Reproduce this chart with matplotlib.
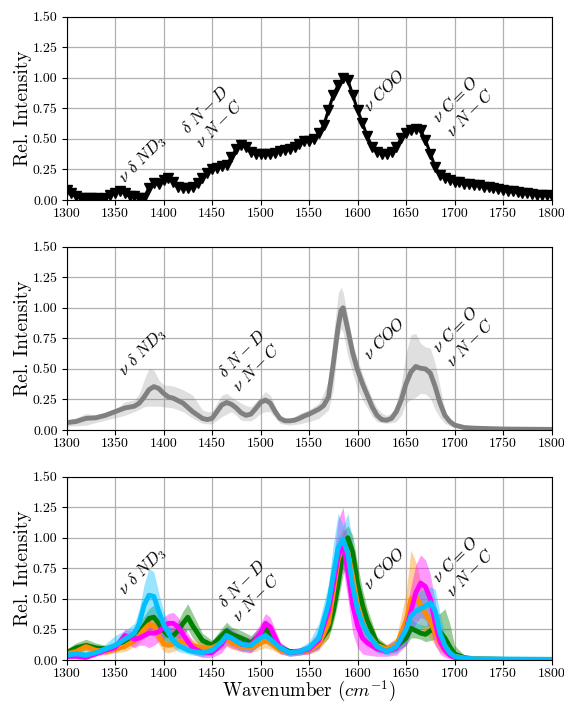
import numpy as np
import matplotlib
matplotlib.use("Agg")
import matplotlib.pyplot as plt
from matplotlib.ticker import FormatStrFormatter, MultipleLocator

plt.rcParams['font.family'] = 'serif'
plt.rcParams['font.serif'] = ['cmr10']
plt.rcParams['mathtext.fontset'] = 'cm'
plt.rcParams['axes.unicode_minus'] = False

# ---------------- data ----------------
# Panel 1: single spectrum with markers
x_top = [1300, 1305, 1310, 1315, 1320, 1325, 1330, 1335, 1340, 1345, 1350, 1355, 1360, 1365, 1370,
         1375, 1380, 1385, 1390, 1395, 1400, 1405, 1410, 1415, 1420, 1425, 1430, 1435, 1440, 1445,
         1450, 1455, 1460, 1465, 1470, 1475, 1480, 1485, 1490, 1495, 1500, 1505, 1510, 1515, 1520,
         1525, 1530, 1535, 1540, 1545, 1550, 1555, 1560, 1565, 1570, 1575, 1580, 1585, 1590, 1595,
         1600, 1605, 1610, 1615, 1620, 1625, 1630, 1635, 1640, 1645, 1650, 1655, 1660, 1665, 1670,
         1675, 1680, 1685, 1690, 1695, 1700, 1705, 1710, 1715, 1720, 1725, 1730, 1735, 1740, 1745,
         1750, 1755, 1760, 1765, 1770, 1775, 1780, 1785, 1790, 1795, 1800]
y_top = [0.08, 0.055, 0.03, 0.02, 0.02, 0.02, 0.015, 0.01, 0.02, 0.04, 0.06, 0.075, 0.055, 0.03, 0.035,
         0.015, 0.02, 0.10, 0.14, 0.135, 0.16, 0.18, 0.15, 0.11, 0.095, 0.095, 0.11, 0.14, 0.18, 0.22,
         0.25, 0.265, 0.28, 0.29, 0.35, 0.42, 0.45, 0.435, 0.395, 0.38, 0.375, 0.375, 0.38, 0.385, 0.40,
         0.41, 0.42, 0.435, 0.46, 0.48, 0.48, 0.50, 0.545, 0.61, 0.735, 0.86, 0.94, 0.995, 0.98, 0.86,
         0.735, 0.63, 0.52, 0.435, 0.395, 0.38, 0.375, 0.395, 0.435, 0.505, 0.545, 0.57, 0.585, 0.57, 0.49,
         0.38, 0.27, 0.205, 0.18, 0.165, 0.15, 0.145, 0.135, 0.13, 0.125, 0.12, 0.11, 0.105, 0.095, 0.09,
         0.08, 0.075, 0.07, 0.065, 0.06, 0.055, 0.05, 0.045, 0.04, 0.038, 0.035]

# Panel 2: average spectrum with band
x_mid = [1300, 1310, 1320, 1330, 1340, 1350, 1360, 1370, 1375, 1380, 1385, 1390, 1395, 1400, 1405,
         1410, 1420, 1430, 1440, 1445, 1450, 1455, 1460, 1465, 1470, 1475, 1480, 1485, 1490, 1495,
         1500, 1505, 1510, 1515, 1520, 1525, 1530, 1535, 1540, 1545, 1550, 1560, 1565, 1570, 1575,
         1580, 1583, 1585, 1590, 1595, 1600, 1605, 1610, 1615, 1620, 1625, 1630, 1635, 1640, 1645,
         1650, 1655, 1660, 1665, 1670, 1675, 1680, 1685, 1690, 1695, 1700, 1710, 1720, 1750, 1800]
mean_mid = [0.06, 0.07, 0.095, 0.10, 0.12, 0.15, 0.18, 0.195, 0.22, 0.27, 0.33, 0.355, 0.34, 0.30, 0.27,
            0.26, 0.22, 0.15, 0.095, 0.085, 0.095, 0.15, 0.205, 0.225, 0.21, 0.18, 0.14, 0.12, 0.13, 0.175,
            0.225, 0.245, 0.22, 0.15, 0.095, 0.075, 0.075, 0.08, 0.095, 0.115, 0.13, 0.17, 0.20, 0.27, 0.545,
            0.845, 0.98, 1.0, 0.82, 0.63, 0.49, 0.38, 0.285, 0.19, 0.12, 0.085, 0.08, 0.095, 0.15, 0.245,
            0.38, 0.475, 0.52, 0.505, 0.50, 0.465, 0.355, 0.22, 0.12, 0.07, 0.04, 0.02, 0.015, 0.008, 0.005]
lo_mid = [0.03, 0.035, 0.04, 0.06, 0.08, 0.10, 0.12, 0.15, 0.17, 0.19, 0.195, 0.195, 0.195, 0.19, 0.185,
          0.18, 0.15, 0.095, 0.055, 0.05, 0.05, 0.08, 0.11, 0.13, 0.15, 0.12, 0.08, 0.075, 0.075, 0.10,
          0.135, 0.15, 0.15, 0.10, 0.055, 0.045, 0.04, 0.045, 0.05, 0.06, 0.07, 0.095, 0.13, 0.165, 0.33,
          0.735, 0.83, 0.80, 0.60, 0.465, 0.33, 0.25, 0.18, 0.11, 0.07, 0.06, 0.055, 0.06, 0.07, 0.12,
          0.22, 0.25, 0.27, 0.30, 0.295, 0.26, 0.165, 0.10, 0.055, 0.035, 0.02, 0.01, 0.008, 0.005, 0.003]
hi_mid = [0.08, 0.10, 0.135, 0.12, 0.14, 0.165, 0.23, 0.245, 0.30, 0.41, 0.505, 0.49, 0.41, 0.37, 0.365,
          0.36, 0.33, 0.285, 0.165, 0.15, 0.15, 0.22, 0.285, 0.30, 0.27, 0.245, 0.22, 0.20, 0.19, 0.23,
          0.27, 0.315, 0.285, 0.20, 0.12, 0.10, 0.095, 0.11, 0.135, 0.15, 0.165, 0.22, 0.30, 0.41, 0.765,
          1.12, 1.17, 1.13, 0.93, 0.71, 0.575, 0.46, 0.355, 0.26, 0.18, 0.14, 0.12, 0.14, 0.22, 0.38,
          0.63, 0.78, 0.79, 0.71, 0.68, 0.67, 0.545, 0.355, 0.165, 0.07, 0.04, 0.025, 0.02, 0.015, 0.008]

# Panel 3: four sub-groups, mean with band
x_bot = [1300, 1310, 1320, 1330, 1340, 1350, 1360, 1370, 1375, 1380, 1385, 1390, 1395, 1400, 1405,
         1410, 1415, 1420, 1425, 1430, 1440, 1450, 1460, 1465, 1470, 1480, 1490, 1500, 1505, 1510,
         1520, 1530, 1540, 1550, 1560, 1570, 1575, 1580, 1585, 1590, 1595, 1600, 1605, 1610, 1620,
         1630, 1640, 1650, 1655, 1660, 1665, 1670, 1675, 1680, 1685, 1690, 1695, 1700, 1710, 1720,
         1750, 1800]

green_mean = [0.06, 0.10, 0.12, 0.10, 0.09, 0.10, 0.14, 0.19, 0.23, 0.28, 0.34, 0.35, 0.30, 0.24, 0.20,
              0.20, 0.24, 0.30, 0.35, 0.28, 0.16, 0.12, 0.20, 0.24, 0.21, 0.18, 0.14, 0.21, 0.26, 0.21,
              0.10, 0.07, 0.07, 0.09, 0.14, 0.25, 0.40, 0.62, 0.90, 1.00, 0.88, 0.62, 0.45, 0.32, 0.14,
              0.09, 0.11, 0.18, 0.26, 0.24, 0.22, 0.21, 0.24, 0.26, 0.23, 0.18, 0.11, 0.05, 0.02, 0.01,
              0.005, 0.005]
green_lo = [0.03, 0.06, 0.08, 0.07, 0.06, 0.07, 0.10, 0.14, 0.17, 0.20, 0.24, 0.26, 0.22, 0.16, 0.12,
            0.12, 0.16, 0.20, 0.25, 0.18, 0.10, 0.08, 0.14, 0.17, 0.15, 0.12, 0.09, 0.15, 0.19, 0.15,
            0.07, 0.05, 0.05, 0.06, 0.10, 0.18, 0.30, 0.48, 0.70, 0.80, 0.72, 0.48, 0.33, 0.22, 0.09,
            0.06, 0.07, 0.12, 0.18, 0.18, 0.17, 0.15, 0.16, 0.17, 0.14, 0.09, 0.05, 0.02, 0.01, 0.005,
            0.002, 0.002]
green_hi = [0.09, 0.14, 0.17, 0.14, 0.12, 0.13, 0.19, 0.25, 0.30, 0.36, 0.42, 0.45, 0.38, 0.31, 0.27,
            0.27, 0.32, 0.40, 0.46, 0.38, 0.22, 0.16, 0.26, 0.31, 0.27, 0.24, 0.20, 0.27, 0.33, 0.27,
            0.14, 0.09, 0.09, 0.12, 0.19, 0.33, 0.52, 0.78, 1.05, 1.10, 1.02, 0.78, 0.58, 0.42, 0.19,
            0.12, 0.15, 0.25, 0.33, 0.31, 0.29, 0.28, 0.33, 0.38, 0.38, 0.42, 0.30, 0.12, 0.04, 0.02,
            0.01, 0.01]

orange_mean = [0.05, 0.07, 0.11, 0.08, 0.07, 0.09, 0.11, 0.16, 0.20, 0.25, 0.29, 0.28, 0.20, 0.13, 0.12,
               0.13, 0.15, 0.15, 0.14, 0.12, 0.10, 0.10, 0.14, 0.17, 0.14, 0.11, 0.10, 0.14, 0.16, 0.14,
               0.08, 0.06, 0.07, 0.08, 0.13, 0.30, 0.55, 0.82, 0.95, 0.88, 0.68, 0.45, 0.32, 0.22, 0.12,
               0.09, 0.12, 0.32, 0.50, 0.52, 0.45, 0.38, 0.32, 0.22, 0.14, 0.08, 0.05, 0.03, 0.015, 0.01,
               0.005, 0.003]
orange_lo = [0.03, 0.04, 0.07, 0.05, 0.04, 0.06, 0.07, 0.11, 0.14, 0.18, 0.21, 0.20, 0.13, 0.07, 0.06,
             0.07, 0.09, 0.09, 0.08, 0.07, 0.06, 0.06, 0.09, 0.11, 0.09, 0.07, 0.06, 0.09, 0.10, 0.09,
             0.05, 0.04, 0.04, 0.05, 0.08, 0.18, 0.38, 0.60, 0.75, 0.70, 0.50, 0.30, 0.20, 0.13, 0.07,
             0.05, 0.07, 0.18, 0.30, 0.33, 0.28, 0.22, 0.18, 0.12, 0.07, 0.04, 0.02, 0.01, 0.005, 0.003,
             0.002, 0.001]
orange_hi = [0.07, 0.10, 0.15, 0.12, 0.10, 0.12, 0.15, 0.21, 0.26, 0.32, 0.37, 0.36, 0.27, 0.19, 0.18,
             0.19, 0.21, 0.21, 0.20, 0.17, 0.14, 0.14, 0.19, 0.23, 0.19, 0.15, 0.14, 0.19, 0.22, 0.19,
             0.11, 0.08, 0.10, 0.11, 0.18, 0.42, 0.72, 1.00, 1.08, 1.00, 0.85, 0.65, 0.52, 0.38, 0.18,
             0.13, 0.18, 0.55, 0.90, 0.80, 0.65, 0.55, 0.48, 0.33, 0.22, 0.13, 0.08, 0.05, 0.03, 0.02,
             0.01, 0.005]

magenta_mean = [0.03, 0.03, 0.02, 0.05, 0.08, 0.10, 0.20, 0.17, 0.18, 0.20, 0.22, 0.22, 0.23, 0.27, 0.30,
                0.30, 0.27, 0.21, 0.15, 0.10, 0.06, 0.06, 0.13, 0.20, 0.18, 0.13, 0.12, 0.22, 0.30, 0.27,
                0.10, 0.06, 0.07, 0.09, 0.16, 0.40, 0.62, 0.85, 0.96, 0.72, 0.45, 0.28, 0.18, 0.14, 0.09,
                0.07, 0.10, 0.25, 0.40, 0.55, 0.63, 0.60, 0.50, 0.30, 0.15, 0.08, 0.04, 0.02, 0.01, 0.005,
                0.003, 0.002]
magenta_lo = [0.01, 0.01, 0.01, 0.03, 0.05, 0.07, 0.14, 0.10, 0.12, 0.12, 0.10, 0.12, 0.15, 0.18, 0.20,
              0.20, 0.18, 0.12, 0.08, 0.05, 0.02, 0.02, 0.06, 0.12, 0.10, 0.07, 0.06, 0.13, 0.20, 0.17,
              0.05, 0.03, 0.04, 0.05, 0.09, 0.25, 0.45, 0.62, 0.75, 0.50, 0.22, 0.10, 0.05, 0.04, 0.03,
              0.03, 0.04, 0.12, 0.22, 0.30, 0.35, 0.33, 0.25, 0.12, 0.05, 0.02, 0.01, 0.005, 0.002, 0.001,
              0.001, 0.001]
magenta_hi = [0.05, 0.05, 0.04, 0.08, 0.11, 0.14, 0.25, 0.24, 0.25, 0.28, 0.32, 0.30, 0.30, 0.35, 0.38,
              0.39, 0.35, 0.28, 0.22, 0.15, 0.10, 0.10, 0.20, 0.28, 0.25, 0.20, 0.18, 0.30, 0.38, 0.35,
              0.15, 0.09, 0.10, 0.13, 0.24, 0.55, 0.82, 1.15, 1.25, 0.95, 0.70, 0.45, 0.30, 0.24, 0.15,
              0.12, 0.17, 0.40, 0.60, 0.78, 0.86, 0.82, 0.70, 0.48, 0.26, 0.14, 0.07, 0.04, 0.02, 0.01,
              0.005, 0.003]

cyan_mean = [0.04, 0.05, 0.04, 0.06, 0.09, 0.12, 0.17, 0.22, 0.30, 0.45, 0.53, 0.52, 0.40, 0.29, 0.22,
             0.16, 0.12, 0.10, 0.08, 0.07, 0.06, 0.08, 0.15, 0.20, 0.18, 0.13, 0.12, 0.18, 0.20, 0.17,
             0.10, 0.06, 0.07, 0.10, 0.18, 0.46, 0.70, 0.92, 0.99, 0.87, 0.60, 0.41, 0.30, 0.22, 0.11,
             0.07, 0.11, 0.25, 0.36, 0.40, 0.42, 0.44, 0.47, 0.40, 0.22, 0.12, 0.06, 0.03, 0.015, 0.01,
             0.008, 0.005]
cyan_lo = [0.02, 0.03, 0.02, 0.04, 0.06, 0.09, 0.12, 0.15, 0.20, 0.28, 0.35, 0.34, 0.25, 0.18, 0.14,
           0.10, 0.07, 0.06, 0.05, 0.04, 0.03, 0.04, 0.10, 0.14, 0.12, 0.08, 0.07, 0.12, 0.14, 0.11,
           0.06, 0.03, 0.04, 0.06, 0.10, 0.28, 0.45, 0.70, 0.80, 0.62, 0.38, 0.25, 0.17, 0.12, 0.06,
           0.04, 0.06, 0.14, 0.22, 0.25, 0.26, 0.27, 0.28, 0.22, 0.10, 0.05, 0.02, 0.01, 0.005, 0.003,
           0.002, 0.001]
cyan_hi = [0.06, 0.08, 0.07, 0.10, 0.13, 0.20, 0.24, 0.30, 0.42, 0.62, 0.75, 0.72, 0.55, 0.40, 0.30,
           0.22, 0.17, 0.14, 0.11, 0.10, 0.09, 0.12, 0.21, 0.27, 0.25, 0.18, 0.17, 0.25, 0.28, 0.24,
           0.14, 0.09, 0.10, 0.15, 0.30, 0.62, 0.95, 1.20, 1.10, 1.20, 0.95, 0.60, 0.45, 0.35, 0.17,
           0.11, 0.17, 0.38, 0.50, 0.55, 0.57, 0.58, 0.60, 0.58, 0.38, 0.20, 0.10, 0.05, 0.03, 0.02,
           0.015, 0.01]

groups = [
    ("green", green_mean, green_lo, green_hi),
    ("darkorange", orange_mean, orange_lo, orange_hi),
    ("magenta", magenta_mean, magenta_lo, magenta_hi),
    ("deepskyblue", cyan_mean, cyan_lo, cyan_hi),
]

labels_pos = {
    'top': [(1350, 0.11), (1415, 0.40), (1602, 0.70), (1673, 0.49)],
    'mid': [(1350, 0.41), (1453, 0.29), (1602, 0.55), (1673, 0.49)],
    'bot': [(1350, 0.50), (1453, 0.29), (1602, 0.55), (1673, 0.49)],
}
label_texts = [r'$\nu\ \delta\ ND_3$',
               r'$\delta\ N-D$' + '\n' + r'$\nu\ N-C$',
               r'$\nu\ COO$',
               r'$\nu\ C=O$' + '\n' + r'$\nu\ N-C$']

# ---------------- figure ----------------
fig = plt.figure(figsize=(5.64, 7.04), dpi=100)
left, width, height = 0.118, 0.86, 0.2604
bottoms = [0.7159, 0.3892, 0.0625]
axes = [fig.add_axes([left, b, width, height]) for b in bottoms]

ax = axes[0]
ax.plot(x_top, y_top, color='black', lw=2.2, marker='v', ms=6.5)

ax = axes[1]
ax.fill_between(x_mid, lo_mid, hi_mid, color='gray', alpha=0.25, lw=0)
ax.plot(x_mid, mean_mid, color='gray', lw=3.5)

ax = axes[2]
for c, m, lo, hi in groups:
    ax.fill_between(x_bot, lo, hi, color=c, alpha=0.4, lw=0)
for c, m, lo, hi in groups:
    ax.plot(x_bot, m, color=c, lw=3.5)

for ax, key in zip(axes, ['top', 'mid', 'bot']):
    ax.set_xlim(1300, 1800)
    ax.set_ylim(0, 1.5)
    ax.xaxis.set_major_locator(MultipleLocator(50))
    ax.yaxis.set_major_locator(MultipleLocator(0.25))
    ax.yaxis.set_major_formatter(FormatStrFormatter('%.2f'))
    ax.grid(True, color='#b0b0b0', lw=0.9)
    ax.set_axisbelow(True)
    ax.tick_params(labelsize=10, pad=3)
    ax.tick_params(axis='x', pad=2)
    ax.set_ylabel('Rel. Intensity', fontsize=14)
    ax.yaxis.set_label_coords(-0.072, 0.5)
    for (tx, ty), s in zip(labels_pos[key], label_texts):
        ax.text(tx, ty, s, rotation=45, ha='left', va='bottom', fontsize=12,
                multialignment='center')

axes[2].set_xlabel(r'Wavenumber ($cm^{-1}$)', fontsize=13.5, labelpad=-0.5)

fig.savefig('out.png', dpi=100)
